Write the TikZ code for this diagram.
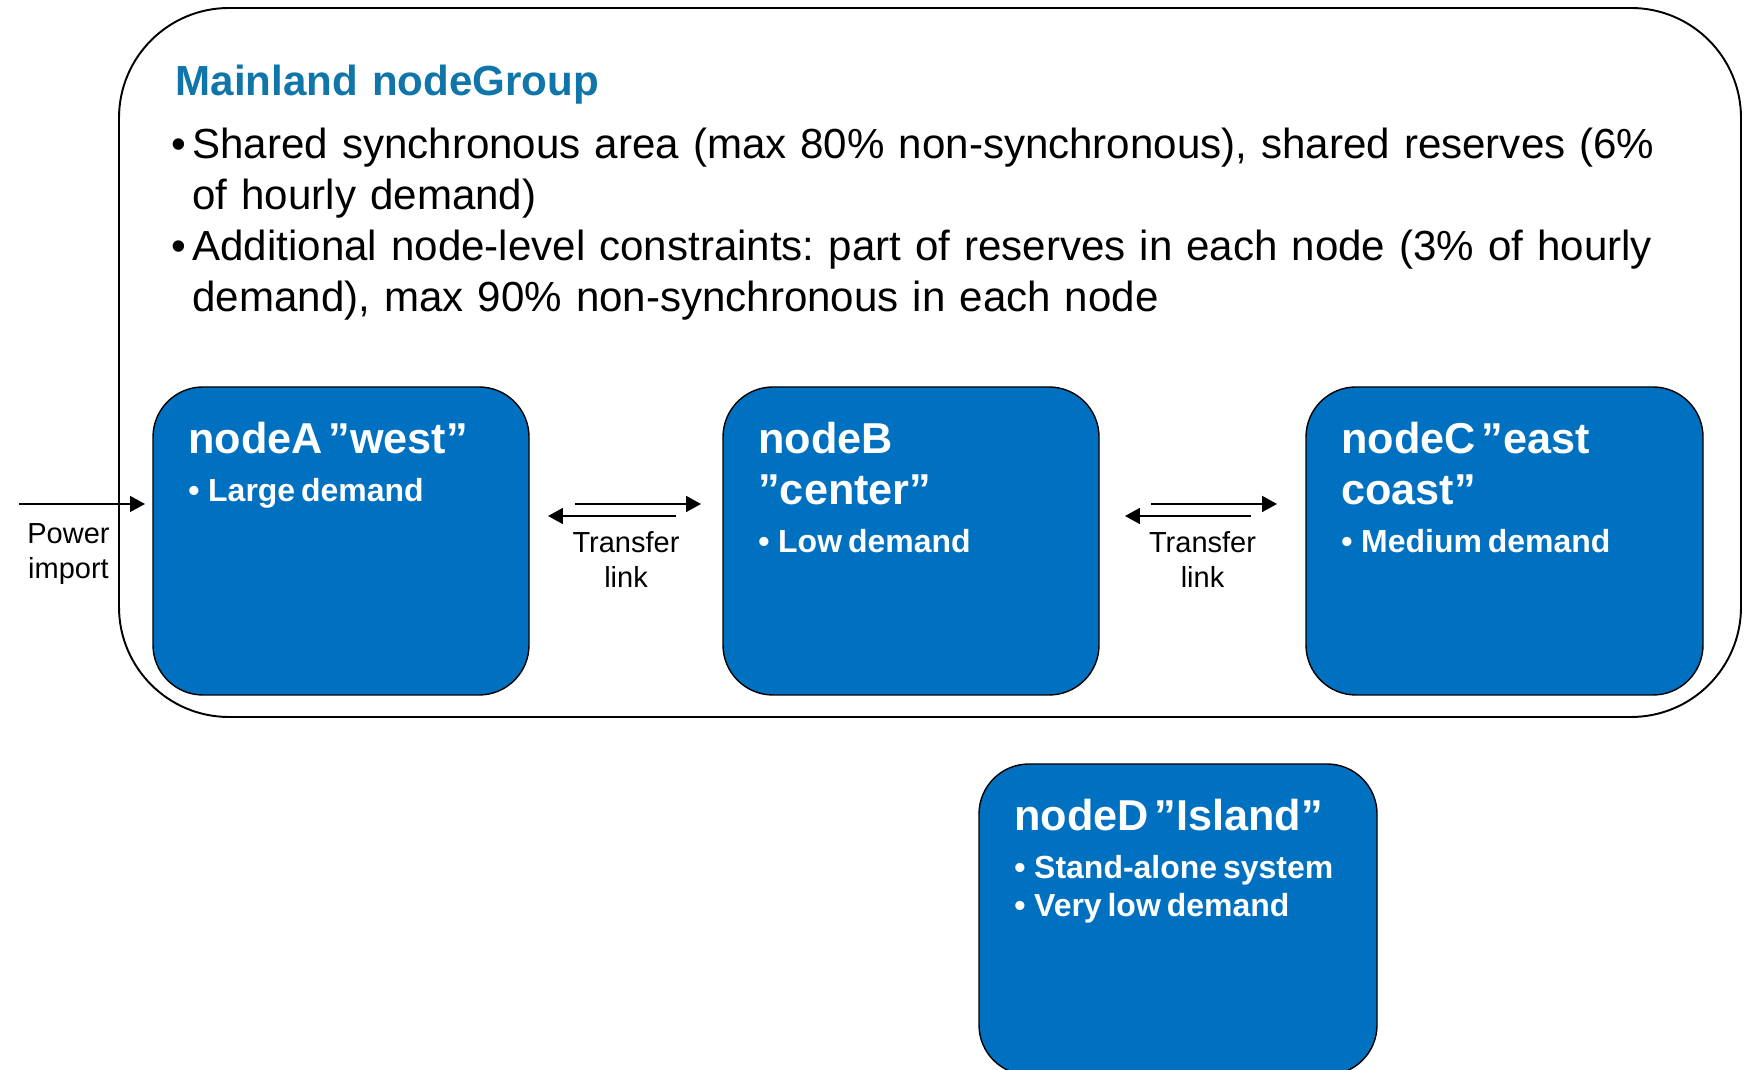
\documentclass[tikz,border=0pt]{standalone}
\usepackage{fontspec}
\setmainfont{Liberation Sans}
\usetikzlibrary{calc,arrows.meta}
\definecolor{regionblue}{RGB}{0,112,192}
\definecolor{grouptitle}{RGB}{16,117,168}
\frenchspacing
\newcommand{\boxtitle}[1]{{\fontsize{24.6}{28.5}\selectfont #1\par}\vspace{5.7pt}}
\newcommand{\boxitem}[1]{{\fontsize{18.2}{21.6}\selectfont •\hspace{0.27em}#1\par}}
\tikzset{
  regionbox/.style={draw=black, line width=0.8pt, fill=regionblue, rounded corners=1cm, inner sep=0pt, outer sep=0pt},
  regiontext/.style={anchor=base west, inner sep=0pt, text width=7.2cm, align=left, text=white, font=\bfseries},
  linkarrow/.style={line width=1.3pt, -{Triangle[length=8.5pt,width=9pt]}},
  smalllabel/.style={anchor=base, inner sep=0pt, text width=3cm, align=center, font={\fontsize{16.5}{19.5}\selectfont}}
}

\begin{document}
\begin{tikzpicture}
			%%%%% START %%%%%
			\useasboundingbox (0, 0) rectangle (34.88, 21.4);
			
			% the mainland group
			\node[draw=black, line width=1.1pt, rounded corners=2.2cm, minimum width=32.44cm, minimum height=14.18cm, inner sep=0pt] (mainland) at (18.6, 14.15) {};
			\node[anchor=base west, inner sep=0pt, text width=31.5cm, align=left, font={\fontsize{23.95}{28.95}\selectfont}] (groupText) at ($(mainland.north west)+(1.06,-1.76)$) {{\bfseries\color{grouptitle}\hspace*{2.5pt}Mainland nodeGroup\par}\vspace{7.2pt}\makebox[12pt][l]{•}Shared synchronous area (max 80\% non-synchronous), shared reserves (6\%\\\hspace*{12pt}of hourly demand)\par\makebox[12pt][l]{•}Additional node-level constraints: part of reserves in each node (3\% of hourly\\\hspace*{12pt}demand), max 90\% non-synchronous in each node\par};
			
			% the four nodes
			\node[regionbox, minimum width=7.52cm, minimum height=6.16cm] (nodeA) at (6.82, 10.58) {};
			\node[regionbox, minimum width=7.52cm, minimum height=6.16cm] (nodeB) at (18.22, 10.58) {};
			\node[regionbox, minimum width=7.94cm, minimum height=6.16cm] (nodeC) at (30.09, 10.58) {};
			\node[regionbox, minimum width=7.96cm, minimum height=6.22cm] (nodeD) at (23.56, 3.01) {};
			
			\node[regiontext] (textA) at ($(nodeA.north west)+(0.7,-1.34)$) {\boxtitle{nodeA ”west”}\boxitem{Large demand}};
			\node[regiontext] (textB) at ($(nodeB.north west)+(0.7,-1.34)$) {\boxtitle{nodeB\\”center”}\boxitem{Low demand}};
			\node[regiontext] (textC) at ($(nodeC.north west)+(0.7,-1.34)$) {\boxtitle{nodeC ”east\\coast”}\boxitem{Medium demand}};
			\node[regiontext] (textD) at ($(nodeD.north west)+(0.7,-1.34)$) {\boxtitle{nodeD ”Island”}\boxitem{Stand-alone system}\boxitem{Very low demand}};
			
			% import and links
			\coordinate (powerSrc) at (0.38, 11.32);
			\draw[linkarrow, line width=1pt] (powerSrc) -- ($(nodeA.west)+(-0.16,0.74)$);
			\node[smalllabel] (powerLbl) at (1.37, 10.52) {Power\\import};
			
			\draw[linkarrow] ($(nodeA.east)+(0.92,0.74)$) -- ($(nodeB.west)+(-0.44,0.74)$);
			\draw[linkarrow] ($(nodeB.west)+(-0.94,0.5)$) -- ($(nodeA.east)+(0.38,0.5)$);
			\node[smalllabel] (linkAB) at ($(nodeA.east)!0.5!(nodeB.west)+(0,-0.24)$) {Transfer\\link};
			
			\draw[linkarrow] ($(nodeB.east)+(1.04,0.74)$) -- ($(nodeC.west)+(-0.58,0.74)$);
			\draw[linkarrow] ($(nodeC.west)+(-1.1,0.5)$) -- ($(nodeB.east)+(0.52,0.5)$);
			\node[smalllabel] (linkBC) at ($(nodeB.east)!0.5!(nodeC.west)+(0,-0.24)$) {Transfer\\link};
			
			%%%%% END %%%%%
\end{tikzpicture}
\end{document}
